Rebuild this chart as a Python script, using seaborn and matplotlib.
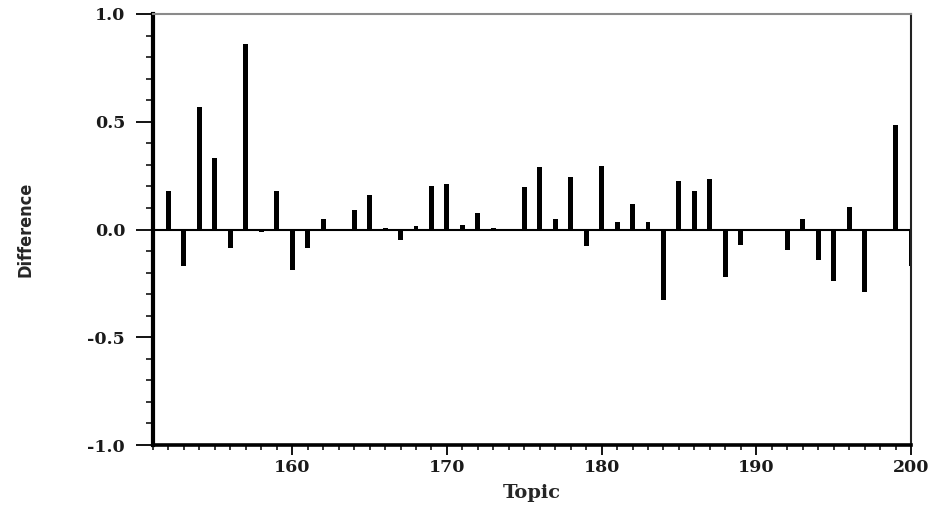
import numpy as np
import pandas as pd
import matplotlib
matplotlib.use("Agg")
import matplotlib.pyplot as plt
from matplotlib.ticker import MultipleLocator
import seaborn as sns

# Per-topic difference scores, topics 151-200
topics = list(range(151, 201))
differences = [
    0.088, 0.18, -0.17, 0.57, 0.33, -0.085, 0.86, -0.01, 0.18, -0.19,
    -0.085, 0.05, 0.0, 0.09, 0.16, 0.005, -0.05, 0.015, 0.20, 0.21,
    0.02, 0.077, 0.006, 0.0, 0.195, 0.29, 0.05, 0.245, -0.075, 0.295,
    0.035, 0.12, 0.035, -0.325, 0.225, 0.18, 0.235, -0.22, -0.07, 0.0,
    0.0, -0.095, 0.05, -0.14, -0.24, 0.105, -0.29, 0.0, 0.485, -0.17,
]
x_ticks = [160, 170, 180, 190, 200]
y_ticks = [-1.0, -0.5, 0.0, 0.5, 1.0]

df = pd.DataFrame({"Topic": topics, "Difference": differences})

sns.set_theme(style="white")
serif = ["DejaVu Serif", "Liberation Serif"]

fig = plt.figure(figsize=(9.44, 5.07), dpi=100)
ax = fig.add_axes([153 / 944, 1 - 445 / 507, 758 / 944, 431 / 507])

sns.barplot(data=df, x="Topic", y="Difference", native_scale=True,
            width=0.32, color="black", saturation=1, edgecolor="none", ax=ax)

ax.axhline(0, color="black", lw=1.5, zorder=0)

ax.set_xlim(151, 200)
ax.set_ylim(-1.0, 1.0)
ax.set_xticks(x_ticks)
ax.set_yticks(y_ticks)
ax.xaxis.set_minor_locator(MultipleLocator(1))
ax.yaxis.set_minor_locator(MultipleLocator(0.1))
ax.set_xticklabels([str(t) for t in x_ticks], fontfamily=serif,
                   fontsize=12.5, fontweight="bold", color="#1a1a1a")
ax.set_yticklabels([f"{v:.1f}" for v in y_ticks], fontfamily=serif,
                   fontsize=12.5, fontweight="bold", color="#1a1a1a")

ax.tick_params(axis="y", which="major", direction="out", length=12,
               width=1.3, color="black", left=True, pad=8)
ax.tick_params(axis="y", which="minor", direction="out", length=5,
               width=1.1, color="black", left=True)
ax.tick_params(axis="x", which="major", direction="out", length=7,
               width=1.3, color="black", bottom=True, pad=3)
ax.tick_params(axis="x", which="minor", direction="out", length=3.5,
               width=1.1, color="black", bottom=True)

ax.spines["left"].set_linewidth(3.0)
ax.spines["bottom"].set_linewidth(2.6)
for side in ("left", "bottom"):
    ax.spines[side].set_color("black")
ax.spines["right"].set_linewidth(1.5)
ax.spines["right"].set_color("#222222")
ax.spines["top"].set_linewidth(1.5)
ax.spines["top"].set_color("#8a8a8a")

ax.set_xlabel("Topic", fontfamily=serif, fontsize=14, fontweight="bold",
              labelpad=6)
ax.set_ylabel("Difference", family=["DejaVu Sans", "Liberation Sans"],
              fontstretch="condensed", fontsize=13, fontweight="bold",
              labelpad=0)
ax.yaxis.set_label_coords(-118 / 758, 0.5)

fig.savefig("out.png", dpi=100, facecolor="white")
